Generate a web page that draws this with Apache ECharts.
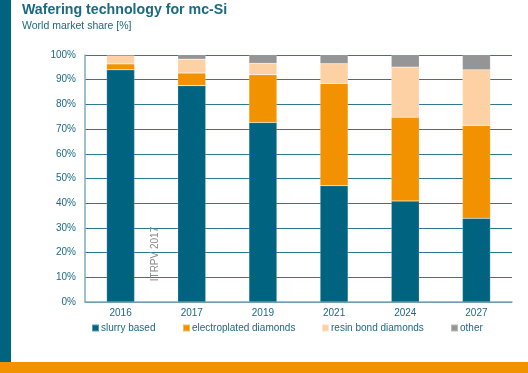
<!DOCTYPE html>
<html><head><meta charset="utf-8">
<script src="https://cdn.jsdelivr.net/npm/echarts@6/dist/echarts.min.js"></script>
<style>html,body{margin:0;padding:0;background:#fff}#c{width:528px;height:373px}</style>
</head><body><div id="c"></div>
<script>
const categories = ['2016','2017','2019','2021','2024','2027'];
const slurry = [94.0, 87.6, 72.7, 47.1, 40.9, 33.9];
const electroplated = [2.4, 5.1, 19.3, 41.4, 33.9, 37.6];
const resin = [3.3, 5.6, 4.6, 8.0, 20.3, 22.5];
const other = [0.3, 1.7, 3.4, 3.5, 4.9, 6.0];
const seriesNames = ['slurry based','electroplated diamonds','resin bond diamonds','other'];
const colors = ['#006481','#f39200','#fdd1a4','#959595'];
const yTicks = [0,10,20,30,40,50,60,70,80,90,100];

const teal = '#1b6a84';
const font = 'Liberation Sans, Arial, sans-serif';
const chart = echarts.init(document.getElementById('c'), null, {renderer:'canvas'});
const dataSets = [slurry, electroplated, resin, other];
const legendLeft = [91, 182, 321, 450];
chart.setOption({
  animation:false,
  textStyle:{fontFamily:font},
  title:{text:'Wafering technology for mc-Si', subtext:'World market share [%]', left:17, top:-2,
    itemGap:4,
    textStyle:{color:teal, fontSize:14.2, fontWeight:'bold', fontFamily:font},
    subtextStyle:{color:teal, fontSize:10.5, fontFamily:font}},
  grid:{left:85, right:16, top:55, bottom:71, containLabel:false},
  legend: seriesNames.map((n,i)=>({data:[n], left:legendLeft[i], top:323, padding:0, itemWidth:7, itemHeight:7,
    itemGap:0, icon:'rect', textStyle:{color:teal, fontSize:10, padding:[0,0,0,-3]}})),
  xAxis:{type:'category', data:categories,
    axisLine:{lineStyle:{color:'#7fabbb', width:1.5}}, axisTick:{show:false},
    axisLabel:{color:teal, fontSize:10, margin:6}},
  yAxis:{type:'value', min:0, max:100, interval:10,
    axisLine:{show:true, lineStyle:{color:'#7fabbb', width:1.5}}, axisTick:{show:false},
    axisLabel:{color:teal, fontSize:10, margin:9, formatter:v=>yTicks.includes(v)?v+'%':''},
    splitLine:{lineStyle:{color:'#2f7892', width:1.2}}},
  series: seriesNames.map((n,i)=>({name:n, type:'bar', stack:'s', data:dataSets[i], barWidth:28,
    itemStyle:{color:colors[i], borderColor:'rgba(255,255,255,0.35)', borderWidth:0.5}})),
  graphic:[
    {type:'rect', left:0, top:0, shape:{width:11, height:362}, style:{fill:'#00637f'}, silent:true},
    {type:'rect', left:0, top:362, shape:{width:528, height:11}, style:{fill:'#f39200'}, silent:true},
    {type:'text', x:155, y:254, rotation:Math.PI/2, style:{text:'ITRPV 2017', fill:'#8a8a8a', fontSize:10,
      fontFamily:font, align:'center', verticalAlign:'middle'}, z:100}
  ]
});
</script></body></html>
